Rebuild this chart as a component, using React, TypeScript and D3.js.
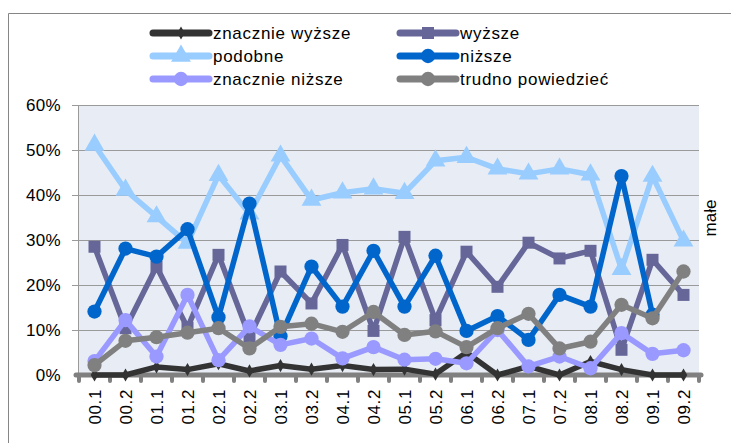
import { useEffect, useRef } from "react";
import * as d3 from "d3";

const categories = ["00.1", "00.2", "01.1", "01.2", "02.1", "02.2", "03.1", "03.2", "04.1", "04.2",
  "05.1", "05.2", "06.1", "06.2", "07.1", "07.2", "08.1", "08.2", "09.1", "09.2"];

const znacznieWyzsze = [0, 0, 1.8, 1.2, 2.5, 0.9, 2.1, 1.3, 2.1, 1.2, 1.3, 0.2, 5, 0, 1.9, 0, 3, 1.2, 0, 0];
const wyzsze = [28.5, 10.4, 24.1, 10.5, 26.7, 8.5, 23, 15.9, 28.9, 9.8, 30.7, 12.2, 27.4, 19.6, 29.4, 25.9, 27.6, 5.6, 25.6, 17.8];
const podobne = [51.1, 41.1, 35.2, 29.3, 44.4, 35.8, 48.7, 38.9, 40.5, 41.4, 40.4, 47.6, 48.4, 45.8, 44.7, 45.8, 44.5, 23.5, 44.2, 29.8];
const nizsze: (number | null)[] = [14.1, 28.1, 26.3, 32.4, 12.8, 38.1, 8.6, 24.1, 15.2, 27.6, 15.2, 26.5, 9.8, 13.1, 7.8, 17.8, 15.2, 44.2, 13.4, null];
const znacznieNizsze = [3.1, 12.2, 4.1, 17.8, 3.3, 10.8, 6.7, 8.1, 3.7, 6.2, 3.4, 3.6, 2.6, 10, 1.9, 4.1, 1.5, 9.3, 4.7, 5.5];
const trudno = [2.2, 7.6, 8.4, 9.4, 10.4, 5.9, 10.7, 11.4, 9.6, 14, 8.9, 9.7, 6.2, 10.4, 13.6, 5.9, 7.4, 15.6, 12.6, 23];

const yTicks = [0, 10, 20, 30, 40, 50, 60];

const series = [
  { name: "znacznie wyższe", values: znacznieWyzsze, color: "#333333", symbol: d3.symbolDiamond, size: 50 },
  { name: "wyższe", values: wyzsze, color: "#666699", symbol: d3.symbolSquare, size: 144 },
  { name: "podobne", values: podobne, color: "#99CCFF", symbol: d3.symbolTriangle, size: 170 },
  { name: "niższe", values: nizsze, color: "#0066CC", symbol: d3.symbolCircle, size: 160 },
  { name: "znacznie niższe", values: znacznieNizsze, color: "#9999FF", symbol: d3.symbolCircle, size: 160 },
  { name: "trudno powiedzieć", values: trudno, color: "#808080", symbol: d3.symbolCircle, size: 160 },
];

export default function App() {
  const svgRef = useRef<SVGSVGElement>(null);

  useEffect(() => {
    document.body.style.margin = "0";
    const svg = d3.select(svgRef.current);
    svg.selectAll("*").remove();

    const font = "'Liberation Sans', Arial, sans-serif";
    const left = 79, right = 699, top = 105, bottom = 375;

    const x = d3.scalePoint<string>().domain(categories).range([left, right]).padding(0.5);
    const y = d3.scaleLinear().domain([0, 60]).range([bottom, top]);
    const step = x.step();

    // frame
    svg.append("path")
      .attr("d", `M8.5,450 V13.5 H731`)
      .attr("fill", "none")
      .attr("stroke", "#868686")
      .attr("stroke-width", 1);

    // plot background
    svg.append("rect")
      .attr("x", left).attr("y", top)
      .attr("width", right - left).attr("height", bottom - top)
      .attr("fill", "#E8EDF5");

    // gridlines + y ticks
    svg.append("g").selectAll("line")
      .data(yTicks.filter(d => d > 0))
      .enter().append("line")
      .attr("x1", left - 7).attr("x2", right)
      .attr("y1", d => Math.round(y(d)) + 0.5).attr("y2", d => Math.round(y(d)) + 0.5)
      .attr("stroke", "#9a9a9a").attr("stroke-width", 1);

    svg.append("line")
      .attr("x1", left - 0.5).attr("x2", left - 0.5)
      .attr("y1", top).attr("y2", bottom)
      .attr("stroke", "#9a9a9a");

    svg.append("g").selectAll("text")
      .data(yTicks)
      .enter().append("text")
      .attr("x", 61).attr("y", d => y(d) + 6)
      .attr("text-anchor", "end")
      .style("font-family", font).style("font-size", "17px")
      .style("letter-spacing", "0.3px")
      .attr("fill", "#000")
      .text(d => `${d}%`);

    // x axis (thick gray)
    const bounds = categories.map(c => (x(c) as number) - step / 2).concat([right]);
    svg.append("g").selectAll("line")
      .data(bounds)
      .enter().append("line")
      .attr("x1", d => d).attr("x2", d => d)
      .attr("y1", bottom).attr("y2", bottom + 6)
      .attr("stroke", "#808080").attr("stroke-width", 4).attr("stroke-linecap", "round");
    svg.append("line")
      .attr("x1", left - 3).attr("x2", right + 2)
      .attr("y1", bottom).attr("y2", bottom)
      .attr("stroke", "#808080").attr("stroke-width", 5).attr("stroke-linecap", "round");

    svg.append("g").selectAll("text")
      .data(categories)
      .enter().append("text")
      .attr("transform", d => `translate(${(x(d) as number) + 6},389) rotate(-90)`)
      .attr("text-anchor", "end")
      .style("font-family", font).style("font-size", "17px")
      .style("letter-spacing", "0.6px")
      .attr("fill", "#000")
      .text(d => d);

    // series
    const line = d3.line<number | null>()
      .defined(d => d !== null)
      .x((_, i) => x(categories[i]) as number)
      .y(d => y(d as number));

    series.forEach(s => {
      const g = svg.append("g");
      g.append("path")
        .datum(s.values as (number | null)[])
        .attr("d", line)
        .attr("fill", "none")
        .attr("stroke", s.color)
        .attr("stroke-width", 5.5)
        .attr("stroke-linejoin", "round");
      g.selectAll("path.m")
        .data((s.values as (number | null)[]).map((v, i) => ({ v, i })).filter(d => d.v !== null))
        .enter().append("path")
        .attr("class", "m")
        .attr("d", d3.symbol().type(s.symbol).size(s.size))
        .attr("transform", d => `translate(${x(categories[d.i])},${y(d.v as number)})`)
        .attr("fill", s.color);
    });

    // legend
    const legend = svg.append("g");
    const cols = [153, 400];
    const rows = [33, 56, 79];
    series.forEach((s, i) => {
      const lx = cols[i % 2];
      const ly = rows[Math.floor(i / 2)];
      const g = legend.append("g").attr("transform", `translate(${lx},${ly})`);
      g.append("line")
        .attr("x1", 0).attr("x2", 56)
        .attr("stroke", s.color).attr("stroke-width", 7).attr("stroke-linecap", "round");
      g.append("path")
        .attr("d", d3.symbol().type(s.symbol).size(s.size)())
        .attr("transform", "translate(28,0)")
        .attr("fill", s.color);
      g.append("text")
        .attr("x", 60).attr("y", 6)
        .style("font-family", font).style("font-size", "17px")
        .style("letter-spacing", "0.7px")
        .attr("fill", "#000")
        .text(s.name);
    });

    svg.append("text")
      .attr("transform", "translate(716,218) rotate(-90)")
      .attr("text-anchor", "middle")
      .style("font-family", font).style("font-size", "17px")
      .attr("fill", "#000")
      .text("małe");
  }, []);

  return <svg ref={svgRef} width={731} height={443} style={{ display: "block", background: "#fff" }}></svg>;
}
